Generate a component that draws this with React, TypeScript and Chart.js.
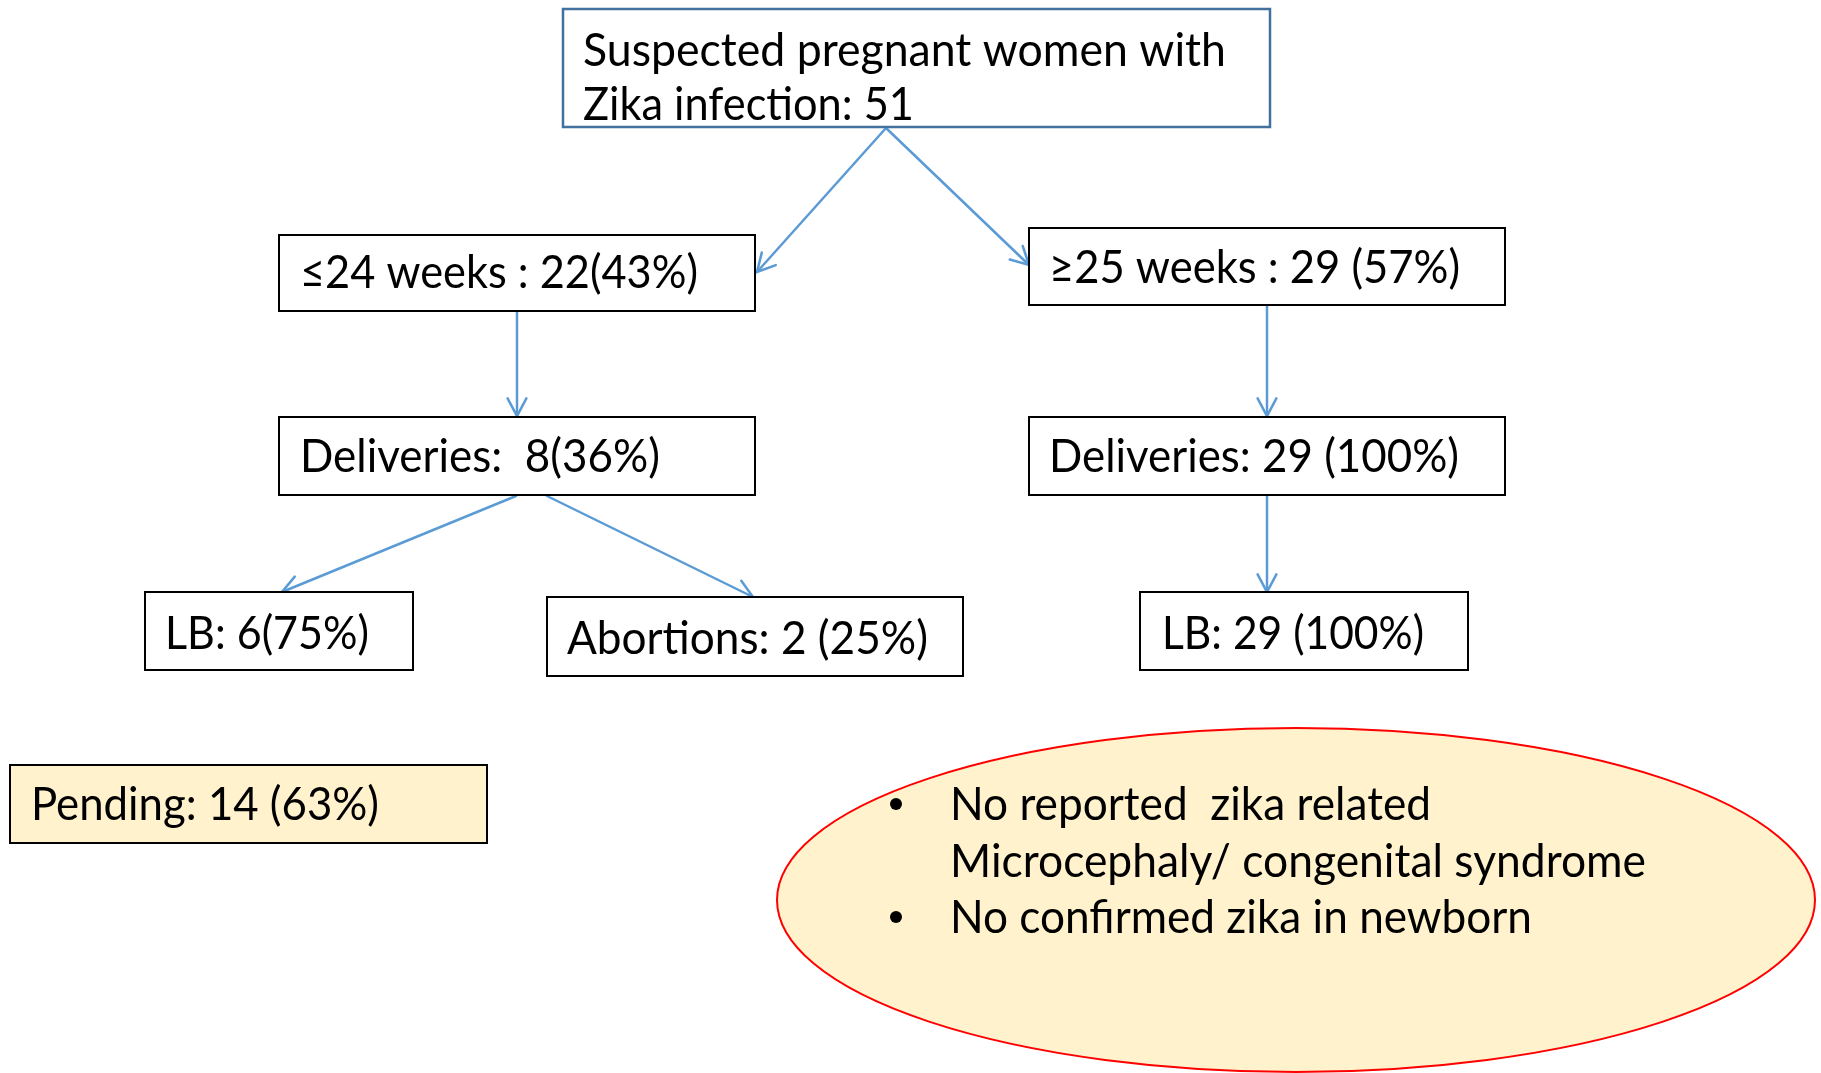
import React, { useEffect, useRef } from "react";
import { Chart, registerables } from "chart.js";

Chart.register(...registerables);

// ---- data (flowchart content) ----
const NODE_TEXT: string[][] = [
  ["Suspected pregnant women with", "Zika infection: 51"],
  ["≤24 weeks : 22(43%)"],
  ["≥25 weeks : 29 (57%)"],
  ["Deliveries:  8(36%)"],
  ["Deliveries: 29 (100%)"],
  ["LB: 6(75%)"],
  ["Abortions: 2 (25%)"],
  ["LB: 29 (100%)"],
  ["Pending: 14 (63%)"],
];
const NOTE_LINES: string[] = [
  "No reported  zika related",
  "Microcephaly/ congenital syndrome",
  "No confirmed zika in newborn",
];
const NOTE_BULLETS: boolean[] = [true, false, true];
// edges: [from node, to node]
const EDGES: number[][] = [
  [0, 1],
  [0, 2],
  [1, 3],
  [2, 4],
  [3, 5],
  [3, 6],
  [4, 7],
];

// ---- layout (positions / styles) ----
const W = 1821;
const H = 1073;
const FONT = "Lato";
const FONT_SIZE = 46;
type Box = { x0: number; y0: number; x1: number; y1: number; stroke: string; fill: string; lw: number; tx: number[]; ty: number[]; tw: number[] };
const BOXES: Box[] = [
  { x0: 563, y0: 9, x1: 1270, y1: 127, stroke: "#41719C", fill: "#FFFFFF", lw: 2.5, tx: [583, 583], ty: [66, 120], tw: [643, 331] },
  { x0: 279, y0: 235, x1: 755, y1: 311, stroke: "#000000", fill: "#FFFFFF", lw: 2, tx: [300], ty: [288], tw: [398] },
  { x0: 1029, y0: 228, x1: 1505, y1: 305, stroke: "#000000", fill: "#FFFFFF", lw: 2, tx: [1049], ty: [283], tw: [411] },
  { x0: 279, y0: 417, x1: 755, y1: 495, stroke: "#000000", fill: "#FFFFFF", lw: 2, tx: [300], ty: [472], tw: [360] },
  { x0: 1029, y0: 417, x1: 1505, y1: 495, stroke: "#000000", fill: "#FFFFFF", lw: 2, tx: [1049], ty: [472], tw: [410] },
  { x0: 145, y0: 592, x1: 413, y1: 670, stroke: "#000000", fill: "#FFFFFF", lw: 2, tx: [165], ty: [649], tw: [204] },
  { x0: 547, y0: 597, x1: 963, y1: 676, stroke: "#000000", fill: "#FFFFFF", lw: 2, tx: [567], ty: [654], tw: [361] },
  { x0: 1140, y0: 592, x1: 1468, y1: 670, stroke: "#000000", fill: "#FFFFFF", lw: 2, tx: [1162], ty: [649], tw: [262] },
  { x0: 10, y0: 765, x1: 487, y1: 843, stroke: "#000000", fill: "#FFF2CC", lw: 2, tx: [31], ty: [820], tw: [348] },
];
const EDGE_PTS: number[][] = [
  [886, 128, 757, 272],
  [886, 128, 1029, 265],
  [517, 312, 517, 416],
  [1267, 306, 1267, 416],
  [516, 496, 282, 592],
  [547, 496, 753, 597],
  [1267, 496, 1267, 592],
];
const ELLIPSE = { cx: 1296, cy: 900, rx: 519, ry: 172, fill: "#FFF2CC", stroke: "#FF0000", lw: 2 };
const NOTE_X = 950;
const NOTE_BULLET_X = 896;
const NOTE_Y = [820, 877, 933];
const NOTE_W = [481, 696, 582];
const ARROW_COLOR = "#5B9BD5";

function drawFitText(ctx: CanvasRenderingContext2D, text: string, x: number, y: number, target: number) {
  const w = ctx.measureText(text).width;
  let sx = target / w;
  if (sx > 1.15) sx = 1.15;
  if (sx < 0.85) sx = 0.85;
  ctx.save();
  ctx.translate(x, y);
  ctx.scale(sx, 1);
  ctx.fillText(text, 0, 0);
  ctx.restore();
}

const flowPlugin = {
  id: "flow",
  afterDraw(chart: any) {
    const ctx: CanvasRenderingContext2D = chart.ctx;
    const sx = chart.scales.x;
    const sy = chart.scales.y;
    const X = (v: number) => sx.getPixelForValue(v);
    const Y = (v: number) => sy.getPixelForValue(v);
    ctx.save();
    ctx.fillStyle = "#FFFFFF";
    ctx.fillRect(0, 0, chart.width, chart.height);

    // arrows
    EDGES.forEach((_e, i) => {
      const [a, b, c, d] = EDGE_PTS[i];
      const x1 = X(a), y1 = Y(b), x2 = X(c), y2 = Y(d);
      ctx.strokeStyle = ARROW_COLOR;
      ctx.lineWidth = 2.5;
      ctx.lineCap = "round";
      ctx.beginPath();
      ctx.moveTo(x1, y1);
      ctx.lineTo(x2, y2);
      ctx.stroke();
      const ang = Math.atan2(y2 - y1, x2 - x1);
      const L = 20;
      const ha = (28 * Math.PI) / 180;
      ctx.beginPath();
      ctx.moveTo(x2 - L * Math.cos(ang - ha), y2 - L * Math.sin(ang - ha));
      ctx.lineTo(x2, y2);
      ctx.lineTo(x2 - L * Math.cos(ang + ha), y2 - L * Math.sin(ang + ha));
      ctx.stroke();
    });

    // boxes
    ctx.font = `${FONT_SIZE}px ${FONT}, "Open Sans", sans-serif`;
    ctx.textBaseline = "alphabetic";
    ctx.textAlign = "left";
    BOXES.forEach((b, i) => {
      const x0 = X(b.x0), y0 = Y(b.y0), x1 = X(b.x1), y1 = Y(b.y1);
      ctx.fillStyle = b.fill;
      ctx.fillRect(x0, y0, x1 - x0, y1 - y0);
      ctx.strokeStyle = b.stroke;
      ctx.lineWidth = b.lw;
      ctx.strokeRect(x0, y0, x1 - x0, y1 - y0);
      ctx.fillStyle = "#000000";
      NODE_TEXT[i].forEach((t, j) => {
        drawFitText(ctx, t, X(b.tx[j]), Y(b.ty[j]), b.tw[j]);
      });
    });

    // ellipse note
    const e = ELLIPSE;
    ctx.beginPath();
    ctx.ellipse(X(e.cx), Y(e.cy), X(e.cx + e.rx) - X(e.cx), Y(e.cy + e.ry) - Y(e.cy), 0, 0, Math.PI * 2);
    ctx.fillStyle = e.fill;
    ctx.fill();
    ctx.strokeStyle = e.stroke;
    ctx.lineWidth = e.lw;
    ctx.stroke();
    ctx.fillStyle = "#000000";
    NOTE_LINES.forEach((t, i) => {
      if (NOTE_BULLETS[i]) {
        ctx.beginPath();
        ctx.arc(X(NOTE_BULLET_X), Y(NOTE_Y[i] - 16), 6, 0, Math.PI * 2);
        ctx.fill();
      }
      drawFitText(ctx, t, X(NOTE_X), Y(NOTE_Y[i]), NOTE_W[i]);
    });
    ctx.restore();
  },
};

export default function App() {
  const ref = useRef<HTMLCanvasElement | null>(null);
  useEffect(() => {
    if (!ref.current) return;
    const chart = new Chart(ref.current, {
      type: "scatter",
      data: {
        datasets: [
          {
            label: "nodes",
            data: BOXES.map((b) => ({ x: (b.x0 + b.x1) / 2, y: (b.y0 + b.y1) / 2 })),
            pointRadius: 0,
            showLine: false,
          },
        ],
      },
      options: {
        animation: false,
        responsive: false,
        devicePixelRatio: 1,
        layout: { padding: 0 },
        events: [],
        plugins: { legend: { display: false }, tooltip: { enabled: false }, title: { display: false } },
        scales: {
          x: { type: "linear", min: 0, max: W, display: false },
          y: { type: "linear", min: 0, max: H, reverse: true, display: false },
        },
      },
      plugins: [flowPlugin],
    });
    let alive = true;
    if ((document as any).fonts && (document as any).fonts.load) {
      (document as any).fonts.load(`${FONT_SIZE}px ${FONT}`).then(() => {
        if (alive) chart.draw();
      });
    }
    return () => {
      alive = false;
      chart.destroy();
    };
  }, []);
  return (
    <div style={{ position: "absolute", left: 0, top: 0, width: W, height: H, background: "#fff" }}>
      <canvas ref={ref} width={W} height={H} style={{ display: "block", width: W, height: H }} />
    </div>
  );
}
